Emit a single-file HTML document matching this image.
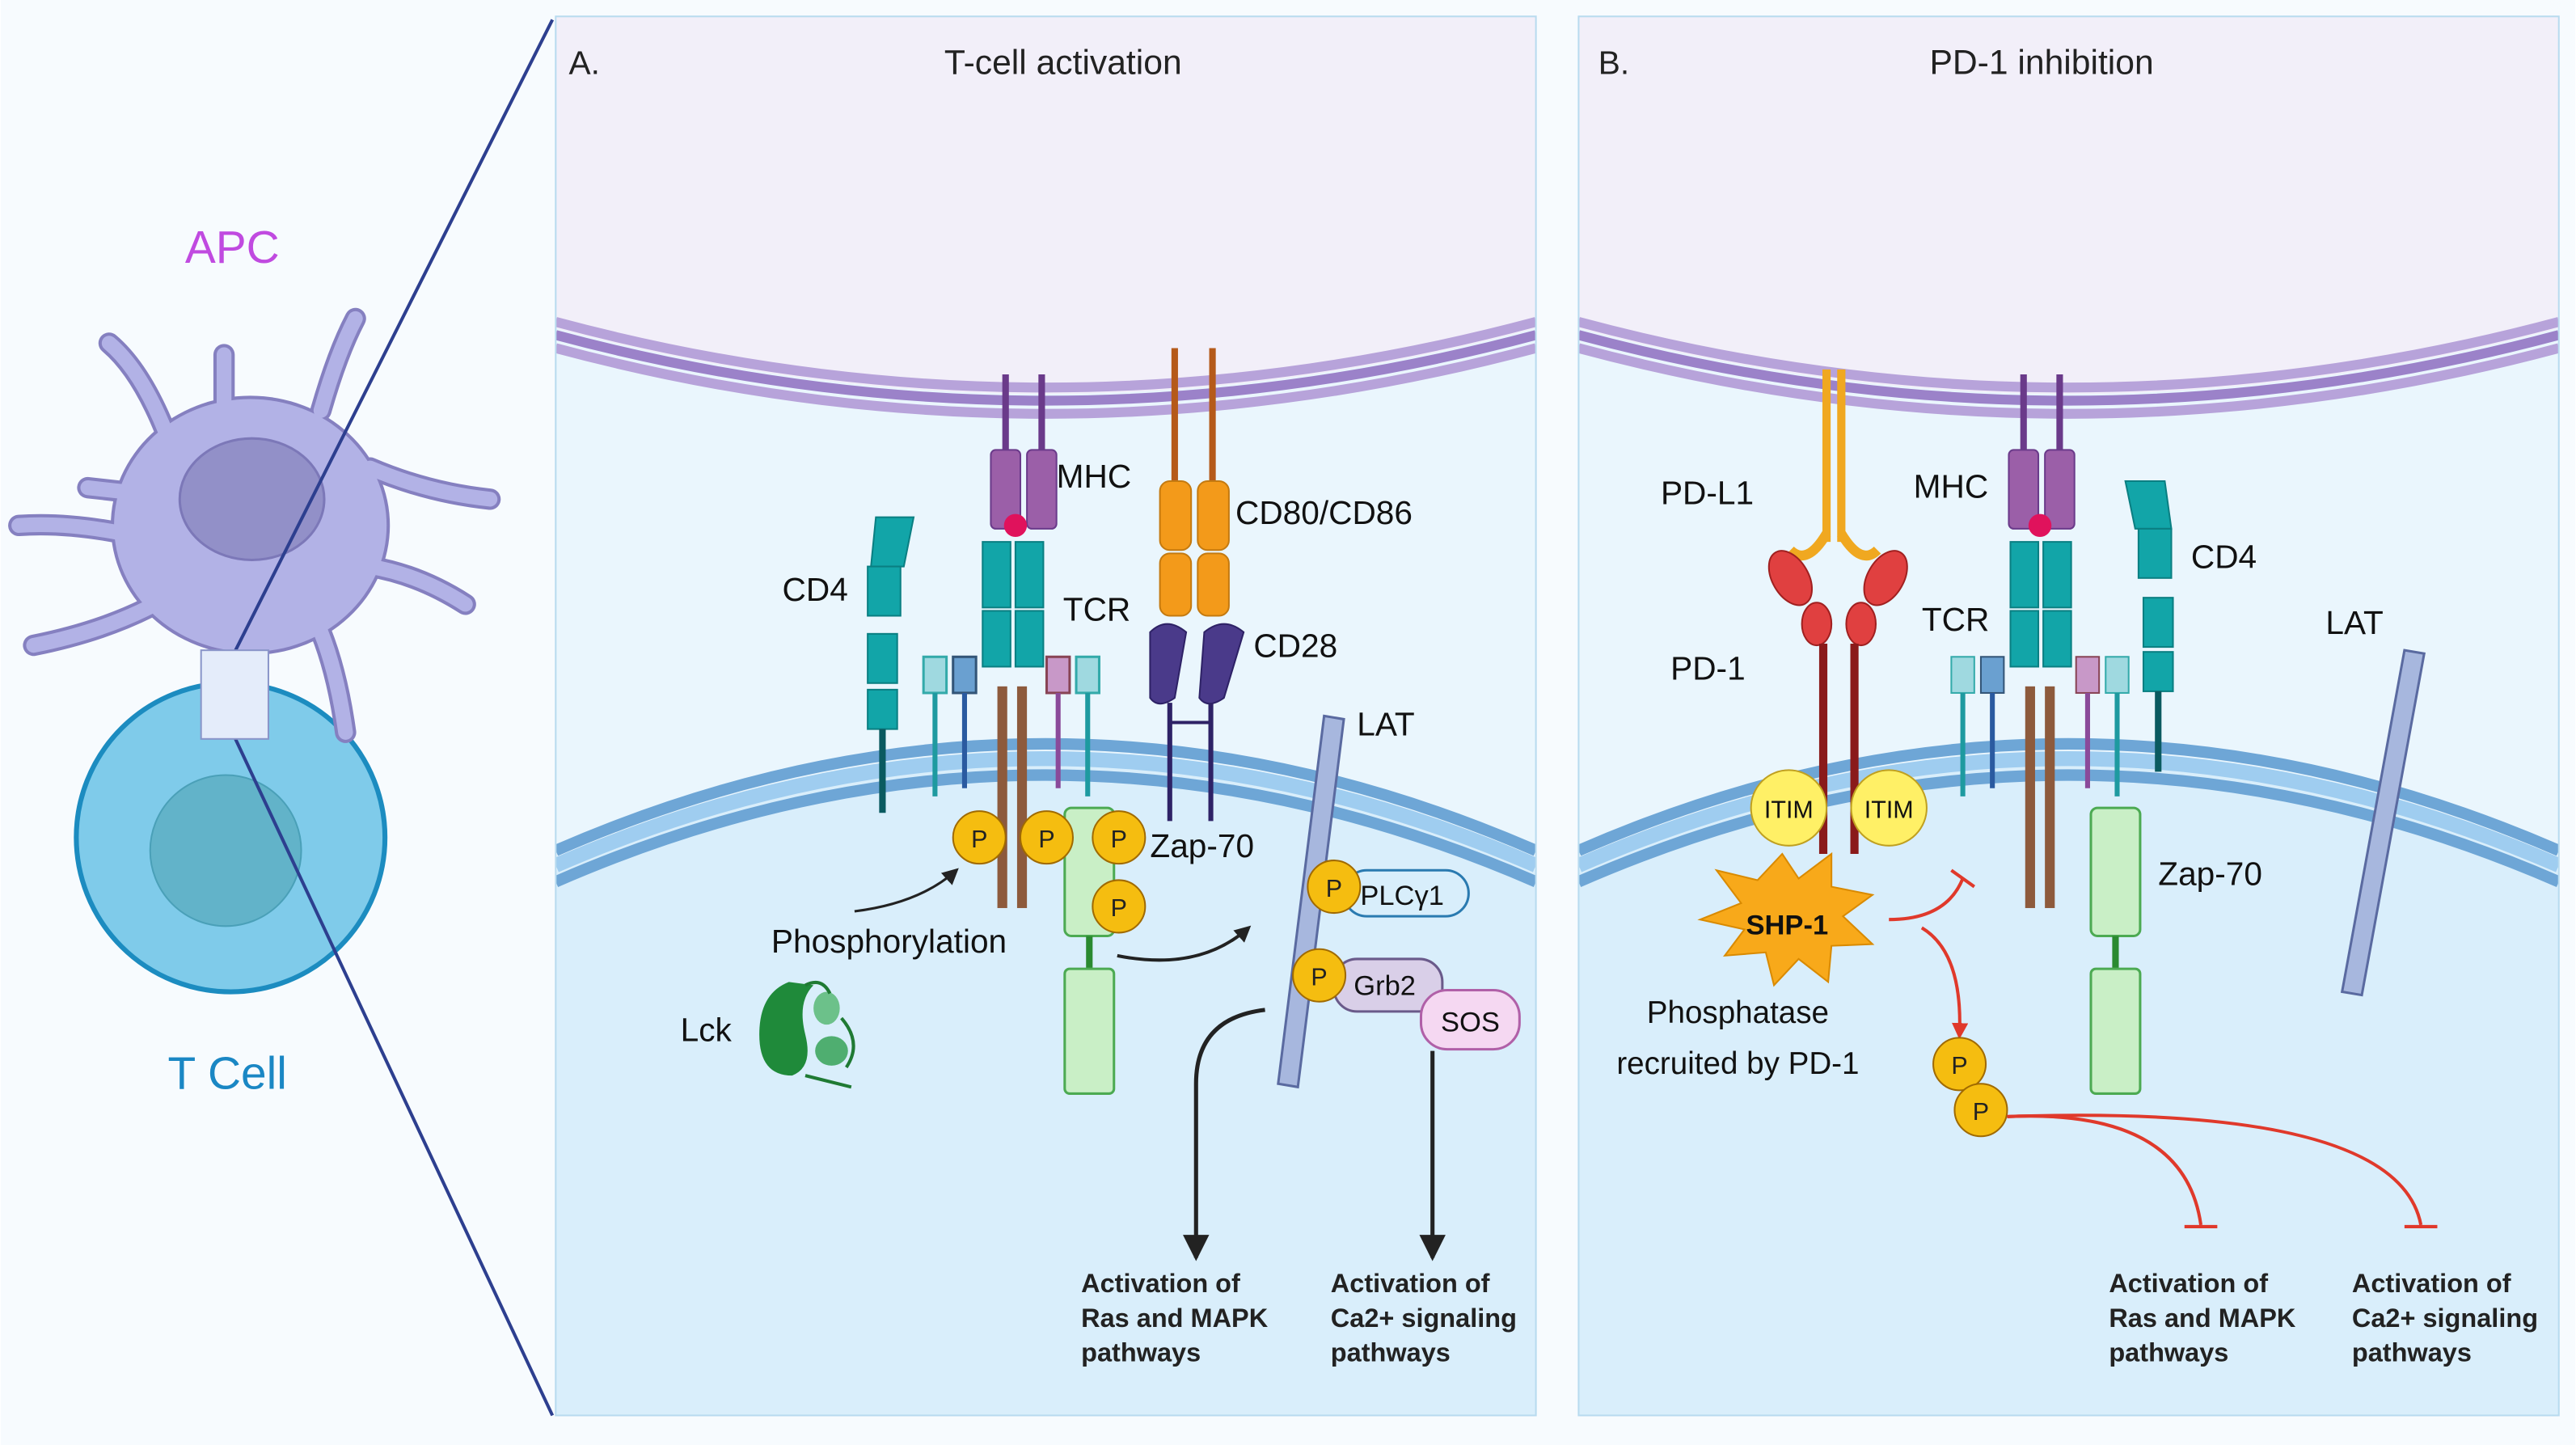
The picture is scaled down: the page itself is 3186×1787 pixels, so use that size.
<!DOCTYPE html>
<html><head><meta charset="utf-8"><style>
html,body{margin:0;padding:0;background:#fff}
svg{display:block}
text{font-family:"Liberation Sans",sans-serif}
</style></head><body>
<svg width="3186" height="1787" viewBox="0 0 1568 880" xmlns="http://www.w3.org/2000/svg">
<defs>
<marker id="ab" markerWidth="10" markerHeight="10" refX="8" refY="5" orient="auto" markerUnits="userSpaceOnUse"><path d="M0,0 L10,5 L0,10 z" fill="#222"/></marker>
<marker id="ab2" markerWidth="16" markerHeight="16" refX="14" refY="8" orient="auto" markerUnits="userSpaceOnUse"><path d="M0,0 L16,8 L0,16 z" fill="#222"/></marker>
<marker id="ar" markerWidth="10" markerHeight="10" refX="7" refY="5" orient="auto" markerUnits="userSpaceOnUse"><path d="M0,0 L10,5 L0,10 z" fill="#e0392b"/></marker>
<clipPath id="cA"><rect x="338" y="10" width="597" height="852"/></clipPath>
<clipPath id="cB"><rect x="961" y="10" width="597" height="852"/></clipPath>
<g id="panel">
<rect x="0" y="0" width="597" height="852" fill="#d9eefb"/>
<path d="M0,0 H597 V190 Q298,270 0,190 Z" fill="#f2eff9"/>
<path d="M0,190 Q298,270 597,190 V520 Q298,390 0,520 Z" fill="#eaf6fd"/>
<path d="M0,186 Q298,266 597,186" fill="none" stroke="#b7a3da" stroke-width="6"/>
<path d="M0,194 Q298,274 597,194" fill="none" stroke="#9b82c9" stroke-width="6"/>
<path d="M0,202 Q298,282 597,202" fill="none" stroke="#b7a3da" stroke-width="6"/>
<path d="M0,508 Q298,378 597,508" fill="none" stroke="#6ea6d6" stroke-width="7"/>
<path d="M0,517 Q298,387 597,517" fill="none" stroke="#9fcdf0" stroke-width="9"/>
<path d="M0,527 Q298,397 597,527" fill="none" stroke="#6ea6d6" stroke-width="7"/>
</g>
</defs>
<rect width="1568" height="880" fill="#f7fbfe"/>
<!-- left -->
<circle cx="140" cy="510" r="94" fill="#7fcbea" stroke="#1c8cc0" stroke-width="3"/>
<circle cx="137" cy="518" r="46" fill="#62b3c9" stroke="#4aa0b8" stroke-width="1"/>
<g fill="none" stroke-linecap="round">
<g stroke="#8580c0" stroke-width="13">
<path d="M100,262 Q85,225 66,209"/><path d="M136,245 L136,216"/><path d="M195,250 Q205,215 216,194"/>
<path d="M225,285 Q260,300 298,304"/><path d="M225,345 Q255,350 283,368"/><path d="M195,385 Q205,410 210,446"/>
<path d="M90,370 Q60,385 20,393"/><path d="M75,325 Q40,318 11,320"/><path d="M80,300 L53,297"/>
</g>
<ellipse cx="152" cy="320" rx="85" ry="79" fill="#8580c0" stroke="none"/>
<g stroke="#b2b2e6" stroke-width="9">
<path d="M100,262 Q85,225 66,209"/><path d="M136,245 L136,216"/><path d="M195,250 Q205,215 216,194"/>
<path d="M225,285 Q260,300 298,304"/><path d="M225,345 Q255,350 283,368"/><path d="M195,385 Q205,410 210,446"/>
<path d="M90,370 Q60,385 20,393"/><path d="M75,325 Q40,318 11,320"/><path d="M80,300 L53,297"/>
</g>
</g>
<ellipse cx="152" cy="320" rx="83" ry="77" fill="#b2b2e6"/>
<ellipse cx="153" cy="304" rx="44" ry="37" fill="#9290c8" stroke="#7c78b8" stroke-width="1.5"/>
<line x1="336" y1="12" x2="142" y2="398" stroke="#2d3f8f" stroke-width="2"/>
<line x1="336" y1="862" x2="142" y2="448" stroke="#2d3f8f" stroke-width="2"/>
<rect x="122" y="396" width="41" height="54" fill="#e4ecfa" stroke="#8a95c9"/>
<text x="141" y="160" font-size="28" fill="#c04ae0" text-anchor="middle">APC</text>
<text x="138" y="663" font-size="28" fill="#1a87c4" text-anchor="middle">T Cell</text>

<!-- Panel A -->
<g clip-path="url(#cA)"><use href="#panel" x="338" y="10"/></g>
<rect x="338" y="10" width="597" height="852" fill="none" stroke="#b8dbef"/>
<text x="346" y="45" font-size="20" fill="#222">A.</text>
<text x="647" y="45" font-size="21" fill="#222" text-anchor="middle">T-cell activation</text>
<line x1="612" y1="228" x2="612" y2="275" stroke="#6a3a8a" stroke-width="4"/><line x1="634" y1="228" x2="634" y2="275" stroke="#6a3a8a" stroke-width="4"/>
<rect x="603" y="274" width="18" height="48" rx="3" fill="#9b5fa8" stroke="#6a3a8a"/><rect x="625" y="274" width="18" height="48" rx="3" fill="#9b5fa8" stroke="#6a3a8a"/>
<circle cx="618" cy="320" r="7" fill="#e0125c"/>
<text x="643" y="297" font-size="20" fill="#111">MHC</text>
<rect x="598" y="330" width="17" height="40" fill="#12a5a8" stroke="#0a7f82"/><rect x="618" y="330" width="17" height="40" fill="#12a5a8" stroke="#0a7f82"/>
<rect x="598" y="372" width="17" height="34" fill="#12a5a8" stroke="#0a7f82"/><rect x="618" y="372" width="17" height="34" fill="#12a5a8" stroke="#0a7f82"/>
<rect x="607" y="418" width="6" height="135" fill="#8d5a3c"/><rect x="619" y="418" width="6" height="135" fill="#8d5a3c"/>
<text x="647" y="378" font-size="20" fill="#111">TCR</text>
<g stroke-width="1.5">
<rect x="562" y="400" width="14" height="22" fill="#9fd9e0" stroke="#3aa"/><line x1="569" y1="422" x2="569" y2="485" stroke="#1e9aa0" stroke-width="3"/>
<rect x="580" y="400" width="14" height="22" fill="#6aa0d0" stroke="#357"/><line x1="587" y1="422" x2="587" y2="480" stroke="#2a5aa0" stroke-width="3"/>
<rect x="637" y="400" width="14" height="22" fill="#c898c8" stroke="#845"/><line x1="644" y1="422" x2="644" y2="480" stroke="#8a4a9a" stroke-width="3"/>
<rect x="655" y="400" width="14" height="22" fill="#9fd9e0" stroke="#3aa"/><line x1="662" y1="422" x2="662" y2="485" stroke="#1e9aa0" stroke-width="3"/>
</g>
<path d="M533,315 L556,315 L550,345 L530,345 Z" fill="#12a5a8" stroke="#0a7f82"/>
<rect x="528" y="345" width="20" height="30" fill="#12a5a8" stroke="#0a7f82"/>
<rect x="528" y="386" width="18" height="30" fill="#12a5a8" stroke="#0a7f82"/>
<rect x="528" y="420" width="18" height="24" fill="#12a5a8" stroke="#0a7f82"/>
<line x1="537" y1="444" x2="537" y2="495" stroke="#0a5a60" stroke-width="4"/>
<text x="476" y="366" font-size="20" fill="#111">CD4</text>
<line x1="715" y1="212" x2="715" y2="295" stroke="#b55a1a" stroke-width="4"/><line x1="738" y1="212" x2="738" y2="295" stroke="#b55a1a" stroke-width="4"/>
<rect x="706" y="293" width="19" height="42" rx="6" fill="#f39a1a" stroke="#c47a10"/><rect x="729" y="293" width="19" height="42" rx="6" fill="#f39a1a" stroke="#c47a10"/>
<rect x="706" y="337" width="19" height="38" rx="6" fill="#f39a1a" stroke="#c47a10"/><rect x="729" y="337" width="19" height="38" rx="6" fill="#f39a1a" stroke="#c47a10"/>
<text x="752" y="319" font-size="20" fill="#111">CD80/CD86</text>
<path d="M700,385 Q710,375 722,385 L715,425 Q705,432 700,425 Z" fill="#4a3a8a" stroke="#2e2266"/>
<path d="M733,385 Q745,375 757,385 L745,425 Q735,432 730,425 Z" fill="#4a3a8a" stroke="#2e2266"/>
<line x1="712" y1="428" x2="712" y2="500" stroke="#2e2266" stroke-width="3"/><line x1="737" y1="428" x2="737" y2="500" stroke="#2e2266" stroke-width="3"/>
<line x1="712" y1="440" x2="737" y2="440" stroke="#2e2266" stroke-width="2"/>
<text x="763" y="400" font-size="20" fill="#111">CD28</text>
<rect x="648" y="492" width="30" height="78" rx="4" fill="#c9efc6" stroke="#4caa52" stroke-width="1.5"/>
<line x1="663" y1="570" x2="663" y2="590" stroke="#2a8a30" stroke-width="4"/>
<rect x="648" y="590" width="30" height="76" rx="3" fill="#c9efc6" stroke="#4caa52" stroke-width="1.5"/>
<text x="700" y="522" font-size="20" fill="#111">Zap-70</text>
<g font-size="15" text-anchor="middle" fill="#222">
<circle cx="596" cy="510" r="16" fill="#f5bd10" stroke="#a06a00"/><text x="596" y="516">P</text>
<circle cx="637" cy="510" r="16" fill="#f5bd10" stroke="#a06a00"/><text x="637" y="516">P</text>
<circle cx="681" cy="510" r="16" fill="#f5bd10" stroke="#a06a00"/><text x="681" y="516">P</text>
<circle cx="681" cy="552" r="16" fill="#f5bd10" stroke="#a06a00"/><text x="681" y="558">P</text>
</g>
<path d="M520,555 Q560,550 582,530" fill="none" stroke="#222" stroke-width="1.5" marker-end="url(#ab)"/>
<text x="541" y="580" font-size="20" fill="#111" text-anchor="middle">Phosphorylation</text>
<path d="M480,598 Q462,605 462,630 Q462,655 482,655 Q495,650 490,630 Q485,610 495,600 Z" fill="#1f8a3a"/>
<ellipse cx="503" cy="614" rx="8" ry="10" fill="#6cc18a"/><ellipse cx="506" cy="640" rx="10" ry="9" fill="#4fae70"/>
<path d="M490,600 Q500,595 505,605 M512,620 Q525,635 515,650 M490,655 Q510,660 518,662" fill="none" stroke="#1f7a33" stroke-width="2"/>
<text x="414" y="634" font-size="20" fill="#111">Lck</text>
<path d="M680,582 Q730,592 760,565" fill="none" stroke="#222" stroke-width="2" marker-end="url(#ab)"/>
<path d="M806,436 L818,438 L790,662 L778,660 Z" fill="#a7b7de" stroke="#5a6aa0" stroke-width="1.5"/>
<text x="826" y="448" font-size="20" fill="#111">LAT</text>
<rect x="818" y="530" width="76" height="28" rx="14" fill="#d8eefb" stroke="#2a7ab0" stroke-width="1.5"/>
<text x="828" y="551" font-size="17" fill="#111">PLCγ1</text>
<rect x="812" y="584" width="66" height="32" rx="14" fill="#d9cfe8" stroke="#6a5a8a" stroke-width="1.5"/>
<text x="824" y="606" font-size="17" fill="#111">Grb2</text>
<rect x="865" y="603" width="60" height="36" rx="16" fill="#f5d8f2" stroke="#b060a8" stroke-width="1.5"/>
<text x="895" y="628" font-size="17" fill="#111" text-anchor="middle">SOS</text>
<g font-size="15" text-anchor="middle" fill="#222">
<circle cx="812" cy="540" r="16" fill="#f5bd10" stroke="#a06a00"/><text x="812" y="546">P</text>
<circle cx="803" cy="594" r="16" fill="#f5bd10" stroke="#a06a00"/><text x="803" y="600">P</text>
</g>
<path d="M770,615 Q728,620 728,660 L728,766" fill="none" stroke="#222" stroke-width="2.5" marker-end="url(#ab2)"/>
<line x1="872" y1="640" x2="872" y2="766" stroke="#222" stroke-width="2.5" marker-end="url(#ab2)"/>
<g font-size="16" font-weight="bold" fill="#222">
<text x="658" y="787">Activation of</text><text x="658" y="808">Ras and MAPK</text><text x="658" y="829">pathways</text>
<text x="810" y="787">Activation of</text><text x="810" y="808">Ca2+ signaling</text><text x="810" y="829">pathways</text>
</g>

<!-- Panel B -->
<g clip-path="url(#cB)"><use href="#panel" x="961" y="10"/></g>
<rect x="961" y="10" width="597" height="852" fill="none" stroke="#b8dbef"/>
<text x="973" y="45" font-size="20" fill="#222">B.</text>
<text x="1243" y="45" font-size="21" fill="#222" text-anchor="middle">PD-1 inhibition</text>
<line x1="1112" y1="225" x2="1112" y2="330" stroke="#f0a820" stroke-width="5"/><line x1="1121" y1="225" x2="1121" y2="330" stroke="#f0a820" stroke-width="5"/>
<path d="M1112,325 Q1100,345 1090,335" fill="none" stroke="#f0a820" stroke-width="6"/>
<path d="M1121,325 Q1133,345 1143,335" fill="none" stroke="#f0a820" stroke-width="6"/>
<text x="1011" y="307" font-size="20" fill="#111">PD-L1</text>
<ellipse cx="1090" cy="352" rx="11" ry="18" transform="rotate(-30 1090 352)" fill="#e04040" stroke="#a02020"/>
<ellipse cx="1106" cy="380" rx="9" ry="13" fill="#e04040" stroke="#a02020"/>
<ellipse cx="1148" cy="352" rx="11" ry="18" transform="rotate(30 1148 352)" fill="#e04040" stroke="#a02020"/>
<ellipse cx="1133" cy="380" rx="9" ry="13" fill="#e04040" stroke="#a02020"/>
<line x1="1110" y1="392" x2="1110" y2="520" stroke="#8a1a1a" stroke-width="5"/><line x1="1129" y1="392" x2="1129" y2="520" stroke="#8a1a1a" stroke-width="5"/>
<text x="1017" y="414" font-size="20" fill="#111">PD-1</text>
<circle cx="1089" cy="492" r="23" fill="#fff066" stroke="#c0a020"/><text x="1089" y="498" font-size="15" text-anchor="middle" fill="#111">ITIM</text>
<circle cx="1150" cy="492" r="23" fill="#fff066" stroke="#c0a020"/><text x="1150" y="498" font-size="15" text-anchor="middle" fill="#111">ITIM</text>
<path d="M1085,520 L1095,535 L1115,520 L1115,540 L1140,545 L1122,558 L1140,575 L1115,576 L1113,598 L1095,584 L1080,600 L1075,580 L1050,582 L1062,566 L1035,560 L1060,550 L1045,530 L1070,536 Z" fill="#f8a91a" stroke="#d98a00"/>
<text x="1088" y="569" font-size="17" font-weight="bold" text-anchor="middle" fill="#111">SHP-1</text>
<text x="1058" y="623" font-size="19" text-anchor="middle" fill="#111">Phosphatase</text>
<text x="1058" y="654" font-size="19" text-anchor="middle" fill="#111">recruited by PD-1</text>
<path d="M1150,560 Q1185,560 1195,535" fill="none" stroke="#e0392b" stroke-width="2"/>
<line x1="1188" y1="530" x2="1202" y2="540" stroke="#e0392b" stroke-width="2"/>
<path d="M1170,565 Q1195,580 1193,630" fill="none" stroke="#e0392b" stroke-width="2" marker-end="url(#ar)"/>
<g font-size="15" text-anchor="middle" fill="#222">
<circle cx="1193" cy="648" r="16" fill="#f5bd10" stroke="#a06a00"/><text x="1193" y="654">P</text>
<circle cx="1206" cy="676" r="16" fill="#f5bd10" stroke="#a06a00"/><text x="1206" y="682">P</text>
</g>
<path d="M1222,680 Q1330,675 1340,746" fill="none" stroke="#e0392b" stroke-width="2"/>
<line x1="1330" y1="747" x2="1350" y2="747" stroke="#e0392b" stroke-width="2"/>
<path d="M1222,680 Q1460,672 1474,746" fill="none" stroke="#e0392b" stroke-width="2"/>
<line x1="1464" y1="747" x2="1484" y2="747" stroke="#e0392b" stroke-width="2"/>
<line x1="1232" y1="228" x2="1232" y2="275" stroke="#6a3a8a" stroke-width="4"/><line x1="1254" y1="228" x2="1254" y2="275" stroke="#6a3a8a" stroke-width="4"/>
<rect x="1223" y="274" width="18" height="48" rx="3" fill="#9b5fa8" stroke="#6a3a8a"/><rect x="1245" y="274" width="18" height="48" rx="3" fill="#9b5fa8" stroke="#6a3a8a"/>
<circle cx="1242" cy="320" r="7" fill="#e0125c"/>
<text x="1165" y="303" font-size="20" fill="#111">MHC</text>
<rect x="1224" y="330" width="17" height="40" fill="#12a5a8" stroke="#0a7f82"/><rect x="1244" y="330" width="17" height="40" fill="#12a5a8" stroke="#0a7f82"/>
<rect x="1224" y="372" width="17" height="34" fill="#12a5a8" stroke="#0a7f82"/><rect x="1244" y="372" width="17" height="34" fill="#12a5a8" stroke="#0a7f82"/>
<rect x="1233" y="418" width="6" height="135" fill="#8d5a3c"/><rect x="1245" y="418" width="6" height="135" fill="#8d5a3c"/>
<text x="1170" y="384" font-size="20" fill="#111">TCR</text>
<rect x="1188" y="400" width="14" height="22" fill="#9fd9e0" stroke="#3aa"/><line x1="1195" y1="422" x2="1195" y2="485" stroke="#1e9aa0" stroke-width="3"/>
<rect x="1206" y="400" width="14" height="22" fill="#6aa0d0" stroke="#357"/><line x1="1213" y1="422" x2="1213" y2="480" stroke="#2a5aa0" stroke-width="3"/>
<rect x="1264" y="400" width="14" height="22" fill="#c898c8" stroke="#845"/><line x1="1271" y1="422" x2="1271" y2="480" stroke="#8a4a9a" stroke-width="3"/>
<rect x="1282" y="400" width="14" height="22" fill="#9fd9e0" stroke="#3aa"/><line x1="1289" y1="422" x2="1289" y2="485" stroke="#1e9aa0" stroke-width="3"/>
<path d="M1294,293 L1318,293 L1322,322 L1300,322 Z" fill="#12a5a8" stroke="#0a7f82"/>
<rect x="1302" y="322" width="20" height="30" fill="#12a5a8" stroke="#0a7f82"/>
<rect x="1305" y="364" width="18" height="30" fill="#12a5a8" stroke="#0a7f82"/>
<rect x="1305" y="397" width="18" height="24" fill="#12a5a8" stroke="#0a7f82"/>
<line x1="1314" y1="421" x2="1314" y2="470" stroke="#0a5a60" stroke-width="4"/>
<text x="1334" y="346" font-size="20" fill="#111">CD4</text>
<rect x="1273" y="492" width="30" height="78" rx="4" fill="#c9efc6" stroke="#4caa52" stroke-width="1.5"/>
<line x1="1288" y1="570" x2="1288" y2="590" stroke="#2a8a30" stroke-width="4"/>
<rect x="1273" y="590" width="30" height="76" rx="3" fill="#c9efc6" stroke="#4caa52" stroke-width="1.5"/>
<text x="1314" y="539" font-size="20" fill="#111">Zap-70</text>
<path d="M1464,396 L1476,398 L1438,606 L1426,604 Z" fill="#a7b7de" stroke="#5a6aa0" stroke-width="1.5"/>
<text x="1416" y="386" font-size="20" fill="#111">LAT</text>
<g font-size="16" font-weight="bold" fill="#222">
<text x="1284" y="787">Activation of</text><text x="1284" y="808">Ras and MAPK</text><text x="1284" y="829">pathways</text>
<text x="1432" y="787">Activation of</text><text x="1432" y="808">Ca2+ signaling</text><text x="1432" y="829">pathways</text>
</g>
</svg>
</body></html>
